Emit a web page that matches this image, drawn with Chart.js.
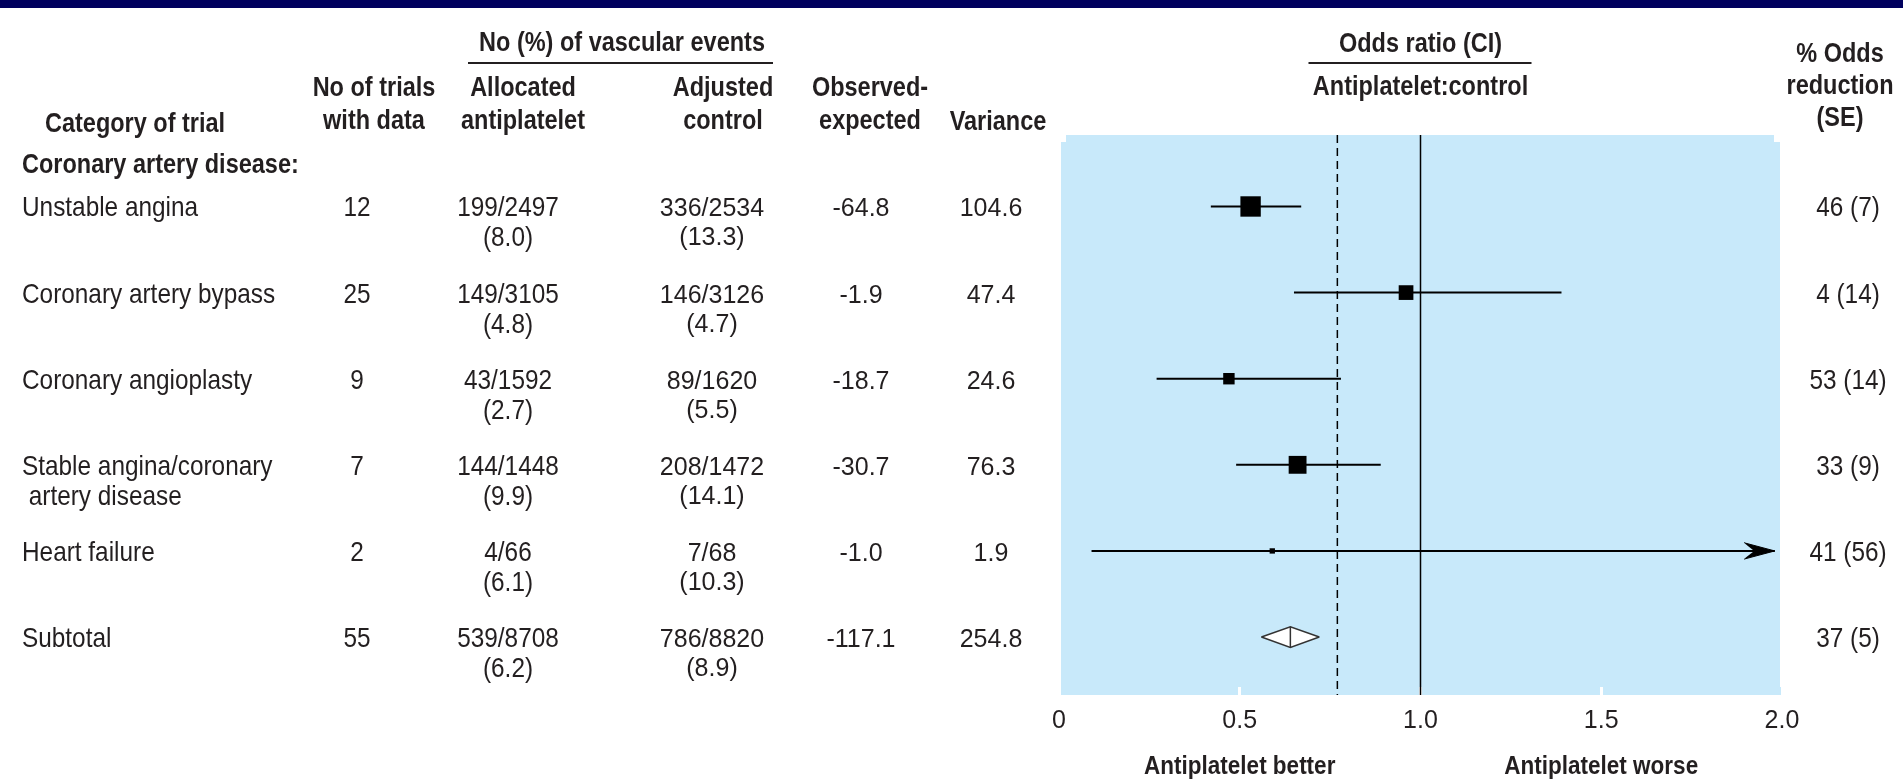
<!DOCTYPE html>
<html>
<head>
<meta charset="utf-8">
<title>Antiplatelet therapy: coronary artery disease</title>
<script src="https://cdn.jsdelivr.net/npm/chart.js@4.4.1/dist/chart.umd.min.js"></script>
<style>
  html, body { margin: 0; padding: 0; background: #fff; }
  canvas { display: block; }
</style>
</head>
<body>
<canvas id="forest" width="1903" height="780"></canvas>
<script>
const categories = ['Unstable angina', 'Coronary artery bypass', 'Coronary angioplasty', 'Stable angina/coronary\n artery disease', 'Heart failure', 'Subtotal']
const trialCounts = ['12', '25', '9', '7', '2', '55']
const antiplateletEvents = ['199/2497', '149/3105', '43/1592', '144/1448', '4/66', '539/8708']
const antiplateletPct = ['(8.0)', '(4.8)', '(2.7)', '(9.9)', '(6.1)', '(6.2)']
const controlEvents = ['336/2534', '146/3126', '89/1620', '208/1472', '7/68', '786/8820']
const controlPct = ['(13.3)', '(4.7)', '(5.5)', '(14.1)', '(10.3)', '(8.9)']
const observedExpected = ['-64.8', '-1.9', '-18.7', '-30.7', '-1.0', '-117.1']
const variances = [104.6, 47.4, 24.6, 76.3, 1.9, 254.8]
const oddsReduction = ['46 (7)', '4 (14)', '53 (14)', '33 (9)', '41 (56)', '37 (5)']

// odds ratio and CI of the single categories (rows 0-4)
const oddsRatio = [0.53, 0.96, 0.47, 0.66, 0.59]
const ciLow = [0.42, 0.65, 0.27, 0.49, 0.09]
const ciHigh = [0.67, 1.39, 0.78, 0.89, 1.98]
const ciRunsOff = [false, false, false, false, true]
// subtotal diamond: low, estimate, high
const subtotalOR = [0.56, 0.64, 0.72]
const typicalOR = 0.77
const xTicks = [0, 0.5, 1.0, 1.5, 2.0]

const INK = '#231f20'
const PANEL = '#c8e9fa'
const FAMILY = "'Liberation Sans', Arial, sans-serif"
const Y_MIN = -0.83, Y_MAX = 5.58
const subRow = categories.length - 1

const head = {bold: true, size: 27, sx: 0.87}
const body = {size: 28, sx: 0.87}
const plain = {size: 25, sx: 1}

function txt(ctx, s, x, y, f, align) {
    ctx.save()
    ctx.font = (f.bold ? 'bold ' : '') + f.size + 'px ' + FAMILY
    ctx.fillStyle = INK
    ctx.textAlign = align || 'center'
    ctx.textBaseline = 'alphabetic'
    ctx.translate(x, y)
    ctx.scale(f.sx, 1)
    ctx.fillText(s, 0, 0)
    ctx.restore()
}

function rule(ctx, x1, x2, y) {
    ctx.save()
    ctx.strokeStyle = INK
    ctx.lineWidth = 2
    ctx.beginPath()
    ctx.moveTo(x1, y)
    ctx.lineTo(x2, y)
    ctx.stroke()
    ctx.restore()
}

const backdrop = {
    id: 'backdrop',
    beforeDraw(chart) {
        const {ctx, chartArea: a} = chart
        ctx.save()
        ctx.fillStyle = '#00005e'
        ctx.fillRect(0, 0, chart.width, 8)
        ctx.fillStyle = PANEL
        ctx.fillRect(a.left + 7, a.top, a.right - a.left - 15, 8)
        ctx.fillRect(a.left + 2, a.top + 7, a.right - a.left - 4, a.bottom - a.top - 7)
        ctx.fillRect(a.left - 1, a.bottom, a.right - a.left + 2, 8)
        ctx.restore()
    }
}

const tableText = {
    id: 'tableText',
    afterDraw(chart) {
        const ctx = chart.ctx
        const xs = chart.scales.x, ys = chart.scales.y

        // column headers
        txt(ctx, 'No (%) of vascular events', 622, 51, head)
        rule(ctx, 468, 773, 63)
        txt(ctx, 'Category of trial', 45, 132, head, 'left')
        txt(ctx, 'No of trials', 374, 96, head)
        txt(ctx, 'with data', 374, 129, head)
        txt(ctx, 'Allocated', 523, 96, head)
        txt(ctx, 'antiplatelet', 523, 129, head)
        txt(ctx, 'Adjusted', 723, 96, head)
        txt(ctx, 'control', 723, 129, head)
        txt(ctx, 'Observed-', 870, 96, head)
        txt(ctx, 'expected', 870, 129, head)
        txt(ctx, 'Variance', 998, 130, head)
        const mid = xs.getPixelForValue(1)
        txt(ctx, 'Odds ratio (CI)', mid, 52, head)
        rule(ctx, mid - 112, mid + 111, 63)
        txt(ctx, 'Antiplatelet:control', mid, 95, head)
        txt(ctx, '% Odds', 1840, 62, head)
        txt(ctx, 'reduction', 1840, 94, head)
        txt(ctx, '(SE)', 1840, 126, head)
        txt(ctx, 'Coronary artery disease:', 22, ys.getPixelForValue(0) - 33, head, 'left')

        // one row per category
        categories.forEach((c, i) => {
            const y = ys.getPixelForValue(i) + 10
            c.split('\n').forEach((line, k) => txt(ctx, line, 22, y + k * 30, body, 'left'))
            txt(ctx, trialCounts[i], 357, y, body)
            txt(ctx, antiplateletEvents[i], 508, y, body)
            txt(ctx, antiplateletPct[i], 508, y + 30, body)
            txt(ctx, controlEvents[i], 712, y, plain)
            txt(ctx, controlPct[i], 712, y + 29, plain)
            txt(ctx, observedExpected[i], 861, y, plain)
            txt(ctx, variances[i].toFixed(1), 991, y, plain)
            txt(ctx, oddsReduction[i], 1848, y, body)
        })

        txt(ctx, 'Antiplatelet better', xs.getPixelForValue(0.5), 774, {bold: true, size: 25, sx: 0.9})
        txt(ctx, 'Antiplatelet worse', xs.getPixelForValue(1.5), 774, {bold: true, size: 25, sx: 0.9})
    }
}

// vertical lines reach into the tick band below the panel
const bandEnd = Y_MAX + 8 / 86

const datasets = []
datasets.push({
    type: 'line', data: [{x: 1, y: Y_MIN}, {x: 1, y: bandEnd}],
    borderColor: '#000', borderWidth: 1.5, pointRadius: 0, clip: false, order: 10
})
datasets.push({
    type: 'line', data: [{x: typicalOR, y: Y_MIN}, {x: typicalOR, y: bandEnd}],
    borderColor: '#000', borderWidth: 1.5, borderDash: [8, 5], pointRadius: 0, clip: false, order: 10
})
oddsRatio.forEach((v, i) => {
    datasets.push({
        type: 'line', data: [{x: ciLow[i], y: i}, {x: ciHigh[i], y: i}],
        borderColor: '#000', borderWidth: 2, pointRadius: 0, order: 5
    })
    if (ciRunsOff[i]) {
        // arrow head, then a panel coloured notch cut out of its back
        const back = ciHigh[i] - 0.085
        ;[-1, 1].forEach(side => {
            datasets.push({
                type: 'line',
                data: [{x: back, y: i + side * 0.095}, {x: ciHigh[i], y: i}],
                borderColor: '#000', backgroundColor: '#000', borderWidth: 1,
                fill: {value: i}, pointRadius: 0, order: 7
            })
            datasets.push({
                type: 'line',
                data: [{x: back - 0.002, y: i + side * 0.1}, {x: back + 0.028, y: i}],
                borderColor: 'rgba(0,0,0,0)', backgroundColor: PANEL, borderWidth: 0,
                fill: {value: i}, pointRadius: 0, order: 6
            })
        })
    }
})
datasets.push({
    type: 'scatter',
    data: oddsRatio.map((v, i) => ({x: v, y: i})),
    pointStyle: 'rect',
    pointRadius: c => (3 + 1.7 * Math.sqrt(variances[c.dataIndex])) / Math.SQRT2,
    backgroundColor: '#000', borderWidth: 0, order: 1
})
;[-1, 1].forEach(side => datasets.push({
    type: 'line',
    data: [{x: subtotalOR[0], y: subRow}, {x: subtotalOR[1], y: subRow + side * 0.12}, {x: subtotalOR[2], y: subRow}],
    borderColor: '#333', backgroundColor: '#fff', borderWidth: 1.5,
    fill: {value: subRow}, pointRadius: 0, tension: 0, order: 2
}))
datasets.push({
    type: 'line',
    data: [{x: subtotalOR[1], y: subRow - 0.12}, {x: subtotalOR[1], y: subRow + 0.12}],
    borderColor: '#333', borderWidth: 1.5, pointRadius: 0, order: 1
})

new Chart(document.getElementById('forest'), {
    type: 'scatter',
    data: {datasets},
    options: {
        responsive: false,
        animation: false,
        events: [],
        layout: {padding: {left: 1059, right: 121, top: 135, bottom: 0}},
        plugins: {legend: {display: false}, tooltip: {enabled: false}},
        scales: {
            x: {
                type: 'linear', min: 0, max: 2,
                afterBuildTicks: s => { s.ticks = xTicks.map(v => ({value: v})) },
                afterFit: s => { s.height = 93 },
                border: {display: false},
                grid: {drawOnChartArea: false, drawTicks: true, tickLength: 8, color: '#fff', lineWidth: 3},
                ticks: {
                    padding: 11, color: INK, maxRotation: 0,
                    font: {family: FAMILY, size: 25},
                    callback: v => v === 0 ? '0' : Number(v).toFixed(1)
                }
            },
            y: {type: 'linear', min: Y_MIN, max: Y_MAX, reverse: true, display: false}
        }
    },
    plugins: [backdrop, tableText]
})
</script>
</body>
</html>
